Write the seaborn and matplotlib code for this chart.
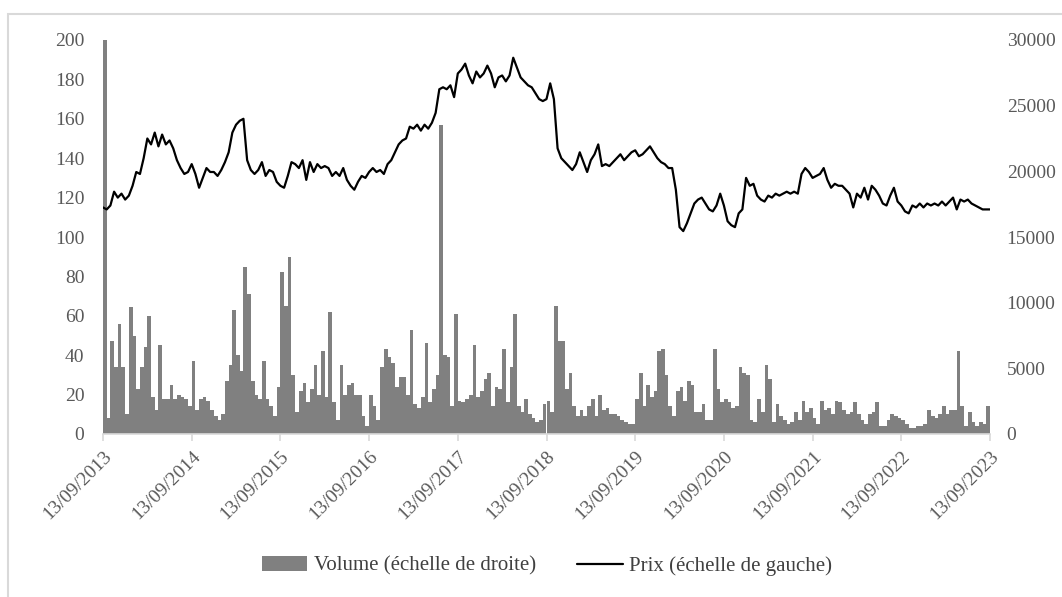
import numpy as np
import pandas as pd
import matplotlib
matplotlib.use("Agg")
import matplotlib.pyplot as plt
from matplotlib.patches import Patch, Rectangle
from matplotlib.lines import Line2D
import seaborn as sns

# ---------------- data (semi-monthly observations, 13/09/2013 -> 13/09/2023) -------------
start_date = "2013-09-13"
end_date = "2023-09-13"

price = [
    115, 114, 116, 123, 120, 122, 119, 121, 126, 133, 132, 140, 150, 147, 153, 146, 152, 147, 149, 145,
    139, 135, 132, 133, 137, 132, 125, 130, 135, 133, 133, 131, 134, 138, 143, 153, 157, 159, 160, 139,
    134, 132, 134, 138, 131, 134, 133, 128, 126, 125, 131, 138, 137, 135, 139, 129, 138, 133, 137, 135,
    136, 135, 131, 133, 131, 135, 129, 126, 124, 128, 131, 130, 133, 135, 133, 134, 132, 137, 139, 143,
    147, 149, 150, 156, 155, 157, 154, 157, 155, 158, 163, 175, 176, 175, 177, 171, 183, 185, 188, 182,
    178, 184, 181, 183, 187, 183, 176, 181, 182, 179, 182, 191, 186, 181, 179, 177, 176, 173, 170, 169,
    170, 178, 170, 145, 140, 138, 136, 134, 137, 143, 138, 133, 139, 142, 147, 136, 137, 136, 138, 140,
    142, 139, 141, 143, 144, 141, 142, 144, 146, 143, 140, 138, 137, 135, 135, 124, 105, 103, 107, 112,
    117, 119, 120, 117, 114, 113, 116, 122, 116, 108, 106, 105, 112, 114, 130, 126, 127, 121, 119, 118,
    121, 120, 122, 121, 122, 123, 122, 123, 122, 132, 135, 133, 130, 131, 132, 135, 129, 125, 127, 126,
    126, 124, 122, 115, 122, 120, 125, 119, 126, 124, 121, 117, 116, 121, 125, 118, 116, 113, 112, 116,
    115, 117, 115, 117, 116, 117, 116, 118, 116, 118, 120, 114, 119, 118, 119, 117, 116, 115, 114, 114,
    114,
]

volume = [
    30000, 1200, 7050, 5100, 8400, 5100, 1500, 9700, 7500, 3450, 5100, 6600, 9000, 2850, 1800, 6750,
    2700, 2700, 3750, 2700, 3000, 2850, 2700, 2100, 5550, 1800, 2700, 2850, 2550, 1800, 1350, 1050,
    1500, 4050, 5250, 9450, 6000, 4800, 12750, 10650, 4050, 3000, 2700, 5550, 2700, 2100, 1350, 3600,
    12300, 9750, 13500, 4500, 1650, 3300, 3900, 2400, 3450, 5250, 3000, 6300, 2850, 9300, 2400, 1050,
    5250, 3000, 3750, 3900, 3000, 3000, 1350, 600, 3000, 2100, 1050, 5100, 6450, 5850, 5400, 3600,
    4350, 4350, 3000, 7950, 2250, 1950, 2850, 6900, 2400, 3450, 4500, 23550, 6000, 5850, 2100, 9150,
    2550, 2400, 2700, 3000, 6750, 2850, 3300, 4200, 4650, 2100, 3600, 3450, 6450, 2400, 5100, 9150,
    2100, 1650, 2700, 1500, 1200, 900, 1050, 2250, 2550, 1650, 9750, 7050, 7050, 3450, 4650, 2100,
    1350, 1800, 1350, 2100, 2700, 1350, 3000, 1800, 1950, 1500, 1500, 1350, 1050, 900, 750, 750,
    2700, 4650, 2100, 3750, 2850, 3300, 6300, 6450, 4500, 2100, 1350, 3300, 3600, 2550, 4050, 3750,
    1650, 1650, 2250, 1050, 1050, 6450, 3450, 2400, 2700, 2400, 1950, 2100, 5100, 4650, 4500, 1050,
    900, 2700, 1650, 5250, 4200, 900, 2250, 1350, 1050, 750, 900, 1650, 1050, 2550, 1650, 1950,
    1200, 750, 2550, 1800, 1950, 1500, 2550, 2400, 1800, 1500, 1650, 2400, 1500, 1050, 750, 1500,
    1650, 2400, 600, 600, 1050, 1500, 1350, 1200, 1050, 750, 450, 450, 600, 600, 750, 1800,
    1350, 1200, 1500, 2100, 1500, 1800, 1800, 6300, 2100, 600, 1650, 900, 600, 900, 750, 2100,
    600,
]

left_ticks = [0, 20, 40, 60, 80, 100, 120, 140, 160, 180, 200]
right_ticks = [0, 5000, 10000, 15000, 20000, 25000, 30000]
x_tick_labels = ["13/09/2013", "13/09/2014", "13/09/2015", "13/09/2016", "13/09/2017",
                 "13/09/2018", "13/09/2019", "13/09/2020", "13/09/2021", "13/09/2022",
                 "13/09/2023"]
legend_labels = ["Volume (échelle de droite)", "Prix (échelle de gauche)"]

# ---------------- build frame -------------
dates = pd.date_range(start_date, end_date, periods=len(price))
df = pd.DataFrame({"date": dates, "price": price, "volume": volume})
tick_dates = pd.to_datetime(x_tick_labels, format="%d/%m/%Y")

sns.set_theme(style="white")
plt.rcParams["font.family"] = ["Liberation Serif", "DejaVu Serif"]

W, H = 1062, 597
fig = plt.figure(figsize=(W / 100, H / 100), dpi=100)
ax = fig.add_axes([103 / W, 1 - 434 / H, (990 - 103) / W, (434 - 40) / H])
ax2 = ax.twinx()

txt_col = "#595959"
bar_col = "#808080"
fs = 14
fs_leg = 15

# volume bars (right axis)
step = (dates[1] - dates[0]).total_seconds() / 86400.0
ax2.bar(df["date"], df["volume"], width=step, align="edge", color=bar_col, linewidth=0)
ax2.set_ylim(0, 30000)
ax2.set_yticks(right_ticks)
ax2.set_yticklabels([str(t) for t in right_ticks])

# price line (left axis) on top
ax.set_zorder(ax2.get_zorder() + 1)
ax.patch.set_visible(False)
sns.lineplot(data=df, x="date", y="price", ax=ax, color="black", linewidth=1.6, legend=False)
ax.set_ylim(0, 200)
ax.set_yticks(left_ticks)
ax.set_yticklabels([str(t) for t in left_ticks])
ax.set_xlim(tick_dates[0], tick_dates[-1])
ax.set_xticks(tick_dates)
ax.set_xticklabels(x_tick_labels, rotation=45, ha="right", rotation_mode="anchor")
ax.set_xlabel("")
ax.set_ylabel("")

for a in (ax, ax2):
    for s in a.spines.values():
        s.set_visible(False)
ax.spines["bottom"].set_visible(True)
ax.spines["bottom"].set_color("#d9d9d9")
ax.spines["bottom"].set_linewidth(1.2)

ax.tick_params(axis="x", which="major", length=5, width=1.2, color="#d9d9d9",
               labelsize=fs, labelcolor=txt_col, pad=5, direction="out", bottom=True)
ax.tick_params(axis="y", length=0, labelsize=fs, labelcolor=txt_col, pad=13.5)
ax2.tick_params(axis="y", length=0, labelsize=fs, labelcolor=txt_col, pad=12)
ax.grid(False)
ax2.grid(False)

# legend
handles = [Patch(facecolor=bar_col, edgecolor="none"),
           Line2D([0], [0], color="black", linewidth=1.6)]
fig.legend(handles, legend_labels, loc="center", bbox_to_anchor=(547 / W, 1 - 566 / H),
           ncol=2, frameon=False, fontsize=fs_leg, labelcolor="#404040",
           handlelength=2.2, handletextpad=0.3, columnspacing=2.0)

# outer chart border
fig.patches.append(Rectangle((8 / W, -0.05), 1.1, 1 - 14 / H + 0.05, transform=fig.transFigure,
                             fill=False, edgecolor="#d9d9d9", linewidth=1.5))

fig.savefig("out.png", dpi=100)
